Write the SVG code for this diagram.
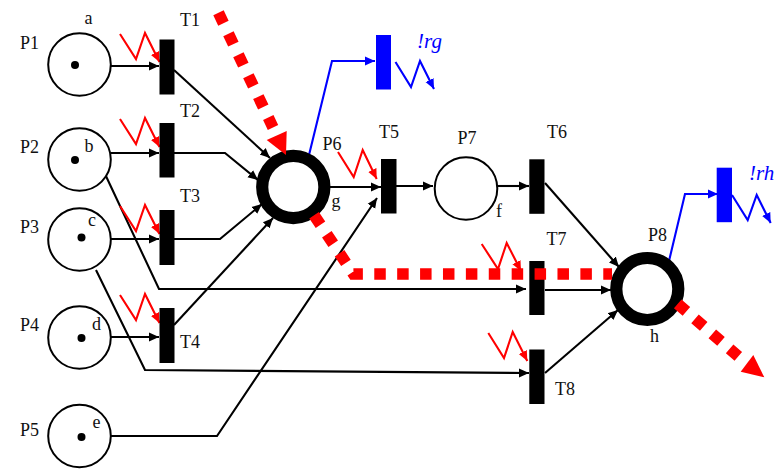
<svg xmlns="http://www.w3.org/2000/svg" width="779" height="473" viewBox="0 0 779 473">
<style>
text{font-family:"Liberation Serif","Times New Roman",serif;font-size:18px;fill:#111}
.blue{fill:#0000ff;font-style:italic;font-size:21px}
.place{fill:#fff;stroke:#000;stroke-width:2}
.ring{fill:#fff;stroke:#000;stroke-width:12.2}
.dot{fill:#000}
.tr{fill:#000}
.trb{fill:#0000ff}
.k,.b,.r{fill:none;stroke-width:2.1;stroke-linejoin:miter}
.k{stroke:#000}
.b{stroke:#0000ff}
.r{stroke:#ff0000}
.d{fill:none;stroke:#ff0000;stroke-width:11.5;stroke-dasharray:11.5 11.4}
</style>
<defs>
<marker id="ak" markerUnits="userSpaceOnUse" markerWidth="11" markerHeight="11" refX="10" refY="5.500" orient="auto"><path d="M0 1L10 5.500L0 10z" fill="#000"/></marker>
<marker id="ab" markerUnits="userSpaceOnUse" markerWidth="11" markerHeight="11" refX="10" refY="5.500" orient="auto"><path d="M0 1L10 5.500L0 10z" fill="#0000ff"/></marker>
<marker id="ar" markerUnits="userSpaceOnUse" markerWidth="11" markerHeight="11" refX="10" refY="5.500" orient="auto"><path d="M0 1L10 5.500L0 10z" fill="#ff0000"/></marker>
</defs>
<g id="connectors">
<g marker-end="url(#ak)" class="k">
<path d="M111 66H159"/>
<path d="M174 70L270 158"/>
<path d="M111 153H159"/>
<path d="M174 153H225L258 180"/>
<path d="M111 239H159"/>
<path d="M174 239H220L262 204"/>
<path d="M111 337H159"/>
<path d="M174 325L273 218"/>
<path d="M105 174L159 289H526"/>
<path d="M96 270L145 370L529 373"/>
<path d="M110 436H217L377 198"/>
<path d="M330 187H381"/>
<path d="M396 186H433"/>
<path d="M497 186H529"/>
<path d="M545 183L619 267"/>
<path d="M545 290H611"/>
<path d="M545 373L618 310"/>
</g>
<g marker-end="url(#ab)" class="b">
<path d="M309 155L332 61H375"/>
<path d="M669 261L685 194H718"/>
<path d="M395.500 62L411 87L420 61L434 89"/>
<path d="M732 195L747.700 220L756.700 195L770.700 223"/>
</g>
<g marker-end="url(#ar)" class="r">
<path d="M120 34L136 59L145 33L159.500 62"/>
<path d="M120 119L136 144L145 118L159.500 147"/>
<path d="M120 206L136 231L145 205L159.500 234"/>
<path d="M120 295L136 320L145 294L159.500 323"/>
<path d="M338 152L353.700 177L362.700 150L376.700 179"/>
<path d="M481.700 244L498 269L506.700 243L521 271"/>
<path d="M488.300 333L504 358L512.700 332L527.300 361"/>
</g>
</g>
<g id="P1"><circle class="place" cx="79.500" cy="64.500" r="31.300"/><circle class="dot" cx="75" cy="65" r="4"/><text x="20" y="49">P1</text><text x="84.500" y="24">a</text></g>
<g id="P2"><circle class="place" cx="79.500" cy="159.500" r="31.300"/><circle class="dot" cx="75" cy="160" r="4"/><text x="20" y="153">P2</text><text x="84.500" y="152">b</text></g>
<g id="P3"><circle class="place" cx="79.500" cy="239.500" r="31.300"/><circle class="dot" cx="81.500" cy="237.500" r="4"/><text x="20" y="233">P3</text><text x="88" y="226">c</text></g>
<g id="P4"><circle class="place" cx="79.500" cy="337.500" r="31.300"/><circle class="dot" cx="81.500" cy="338" r="4"/><text x="20" y="331">P4</text><text x="92" y="330">d</text></g>
<g id="P5"><circle class="place" cx="79.500" cy="436" r="31.300"/><circle class="dot" cx="81.500" cy="437" r="4"/><text x="20" y="436">P5</text><text x="92.500" y="428">e</text></g>
<g id="T1"><rect class="tr" x="159.500" y="39.500" width="15" height="55"/><text x="180" y="26">T1</text></g>
<g id="T2"><rect class="tr" x="159.500" y="123" width="15" height="54.500"/><text x="180" y="117">T2</text></g>
<g id="T3"><rect class="tr" x="159.500" y="210" width="15" height="55"/><text x="180" y="202">T3</text></g>
<g id="T4"><rect class="tr" x="159.500" y="308" width="15" height="55"/><text x="180" y="348">T4</text></g>
<g id="P6"><circle class="ring" cx="293.300" cy="187" r="31.100"/><text x="322.500" y="150">P6</text><text x="331.500" y="207">g</text></g>
<g id="T5"><rect class="tr" x="381" y="159" width="15.500" height="54.500"/><text x="379" y="138">T5</text></g>
<g id="P7"><circle class="place" cx="466" cy="188.500" r="31.300"/><text x="457.500" y="144">P7</text><text x="496" y="217">f</text></g>
<g id="T6"><rect class="tr" x="529.300" y="159.300" width="15.200" height="54.500"/><text x="547" y="138">T6</text></g>
<g id="T7"><rect class="tr" x="529.300" y="261" width="15.200" height="54"/><text x="546.500" y="245">T7</text></g>
<g id="T8"><rect class="tr" x="529.300" y="349.500" width="15.200" height="54.500"/><text x="555" y="395">T8</text></g>
<g id="P8"><circle class="ring" cx="647.300" cy="289" r="31"/><text x="648" y="241">P8</text><text x="650" y="342">h</text></g>
<g id="rg"><rect class="trb" x="376" y="35" width="15" height="54.500"/><text class="blue" x="417" y="48">!rg</text></g>
<g id="rh"><rect class="trb" x="716.700" y="167.700" width="15.300" height="54.500"/><text class="blue" x="749" y="180">!rh</text></g>
<g id="flow">
<path class="d" d="M218.500 12.800L273 127.500" style="stroke-dasharray:11.500 11.700"/>
<path d="M266.700 140L286.700 131L286 155z" fill="#ff0000"/>
<path class="d" d="M314.100 215.200L353.400 274H612"/>
<path class="d" d="M677.700 303.900L738.300 356.400"/>
<path d="M740.700 371.700L753.300 355L764.300 377.300z" fill="#ff0000"/>
</g>
</svg>
